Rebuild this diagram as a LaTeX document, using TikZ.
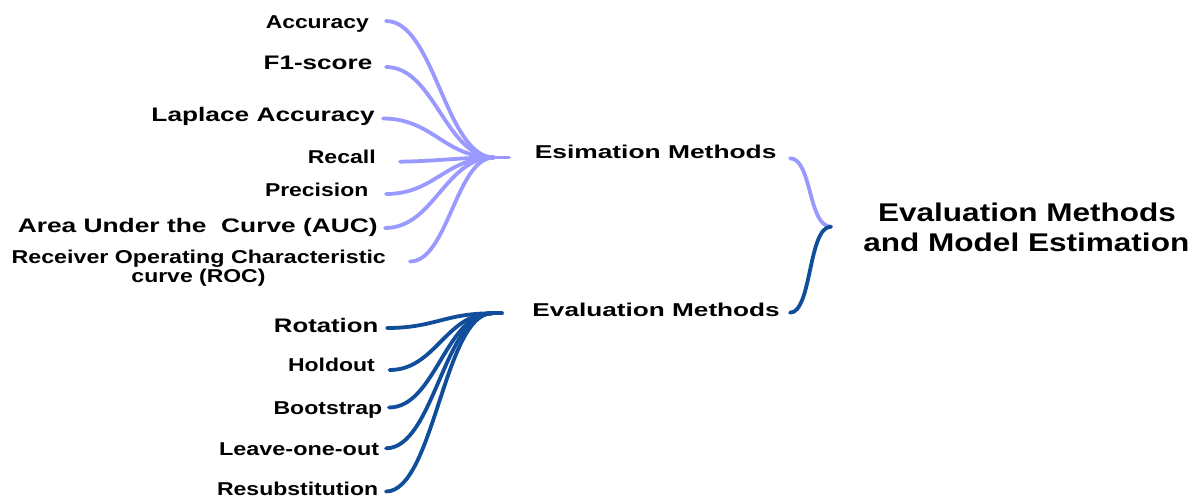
\documentclass[tikz,border=0pt]{standalone}
\usepackage{graphicx}
\usepackage{fontspec}
\usetikzlibrary{calc}
\setmainfont{Liberation Sans}
\definecolor{lightbr}{RGB}{153,153,255}
\definecolor{darkbr}{RGB}{16,78,155}
% text set to a given width, keeping its natural height
\newcommand{\fitw}[2]{\resizebox{#1pt}{\height}{#2}}
\tikzset{
  lbl/.style={inner sep=0pt, font=\bfseries\fontsize{18.6}{19}\selectfont, anchor=base east},
  lblbig/.style={lbl, font=\bfseries\fontsize{19.6}{20}\selectfont},
  ttl/.style={inner sep=0pt, font=\bfseries\fontsize{25.6}{30}\selectfont, anchor=base},
  lightedge/.style={draw=lightbr, line width=3.8pt, line cap=round},
  darkedge/.style={draw=darkbr, line width=3.8pt, line cap=round},
}
\begin{document}
\begin{tikzpicture}[x=1pt, y=-1pt]
\useasboundingbox (0,0) rectangle (1197,498);

% ---- leaves of the estimation branch
\node[lbl] (acc)  at (369,28)    {\fitw{103}{Accuracy}};
\node[lblbig] (f1)   at (372.5,69)  {\fitw{108.7}{F1-score}};
\node[lblbig] (lap)  at (375,121.5) {\fitw{223.3}{Laplace Accuracy}};
\node[lbl] (rec)  at (376,163)   {\fitw{68}{Recall}};
\node[lbl] (pre)  at (368.5,196.5) {\fitw{103.3}{Precision}};
\node[lblbig] (auc)  at (378,232)   {\fitw{360}{Area Under the\ \ Curve (AUC)}};
\node[lbl, anchor=base] (roc)  at (198.8,263) {\fitw{374.3}{Receiver Operating Characteristic}};
\node[lbl, anchor=base] (roc2) at (198.5,282) {\fitw{134}{curve (ROC)}};

% ---- leaves of the evaluation branch
\node[lblbig] (rot)  at (378.5,332) {\fitw{104.3}{Rotation}};
\node[lbl] (hold) at (375,371.5) {\fitw{86.7}{Holdout}};
\node[lbl] (boot) at (382.5,414) {\fitw{108.7}{Bootstrap}};
\node[lbl] (loo)  at (379.3,455) {\fitw{160}{Leave-one-out}};
\node[lbl] (res)  at (378.3,495) {\fitw{161}{Resubstitution}};

% ---- middle level
\node[lbl] (est)  at (776.7,158) {\fitw{241.7}{Esimation Methods}};
\node[lbl] (eval) at (780,316)   {\fitw{247.3}{Evaluation Methods}};

% ---- root
\node[ttl] (root)  at (1027,221.5) {\fitw{297.7}{Evaluation Methods}};
\node[ttl] (root2) at (1026.3,251) {\fitw{326}{and Model Estimation}};

% ---- connector end points
\coordinate (hubE) at (494,157.5);
\coordinate (stubE) at (509,157.5);
\coordinate (hubV) at (492,313.3);
\coordinate (stubV) at (502,313.3);
\coordinate (tip) at (831,226.7);
\coordinate (accS) at (386,21);
\coordinate (f1S)  at (386,67);
\coordinate (lapS) at (383,118.5);
\coordinate (recS) at (400,161.7);
\coordinate (preS) at (386,194);
\coordinate (aucS) at (385,228);
\coordinate (rocS) at (410,261.5);
\coordinate (rotS) at (387,328);
\coordinate (holdS) at (389.5,370);
\coordinate (bootS) at (389,407.5);
\coordinate (looS) at (386,448.3);
\coordinate (resS) at (386,491.5);
\coordinate (estS) at (790,158.3);
\coordinate (evalS) at (790,312.7);

% ---- estimation branch
\foreach \s in {accS,f1S,lapS,preS,aucS,rocS}
  \draw[lightedge] (\s) .. controls ($(\s)!0.45!(hubE|-\s)$) and ($(hubE)!0.45!(\s|-hubE)$) .. (hubE);
\draw[lightedge] (recS) .. controls (440,161) and (460,157.5) .. (hubE);
\draw[lightedge] (hubE) -- (stubE);

% ---- evaluation branch
\foreach \s in {rotS,holdS,bootS,looS,resS}
  \draw[darkedge] (\s) .. controls ($(\s)!0.45!(hubV|-\s)$) and ($(hubV)!0.45!(\s|-hubV)$) .. (hubV);
\draw[darkedge] (hubV) -- (stubV);

% ---- brace joining the two branches to the root
\draw[lightedge] (estS) .. controls (812,158.3) and (808,226.7) .. (tip);
\draw[darkedge] (evalS) .. controls (812,312.7) and (808,226.7) .. (tip);
\end{tikzpicture}
\end{document}
